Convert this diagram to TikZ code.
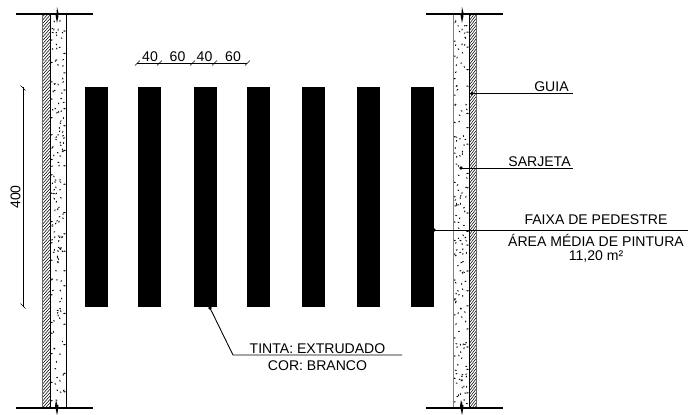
\documentclass[tikz,border=0pt]{standalone}
\usepackage{fontspec}
\setmainfont{Liberation Sans}
\usetikzlibrary{positioning}
\tikzset{
	label text/.style = {font = \fontsize{8}{9}\selectfont, inner sep = 0pt},
	leader/.style = {black, line width = 0.5pt},
	faixa/.style = {fill = black, draw = none},
	curb line/.style = {black, line width = 0.5pt},
	end line/.style = {black, line width = 0.9pt},
	tick/.style = {black, line width = 0.35pt}
}
\begin{document}
\begin{tikzpicture}[x = 0.02cm, y = -0.02cm]
	%	page
	\useasboundingbox (0, 0) rectangle (688, 414);

	%	faixas
	\foreach \x/\name in {85/a, 138/b, 194/c, 247/d, 302/e, 357/f, 411/g}
		\node[faixa, anchor = north west, minimum width = 0.46cm, minimum height = 4.4cm, inner sep = 0pt, outer sep = 0pt] (faixa\name) at (\x, 87) {};

	%	guia: hachura
	\foreach \xa/\xb in {42/50, 469/476} {
		\begin{scope}
			\clip (\xa, 14) rectangle (\xb, 408);
			\foreach \y in {14, 17.4, ..., 424}
				\draw[black, line width = 0.3pt] (\xa, \y) -- (\xb, \y - 9);
		\end{scope}
	}

	%	sarjeta: pontos
	\pgfmathsetseed{41}
	\foreach \xa in {50, 453} {
		\foreach \i in {1, ..., 135} {
			\pgfmathsetmacro{\px}{\xa + 2 + 12*rnd}
			\pgfmathsetmacro{\py}{18 + 386*rnd}
			\pgfmathsetmacro{\pa}{360*rnd}
			\fill[black] (\px, \py) ellipse [x radius = 1.1, y radius = 0.6, rotate = \pa];
		}
		\foreach \y in {24, 44, ..., 400} {
			\pgfmathsetmacro{\py}{\y + 10*rnd}
			\fill[black] (\xa + 14.5, \py) ellipse [x radius = 1.5, y radius = 0.6];
			\fill[black] (\xa + 1.5, \py + 9) ellipse [x radius = 1.5, y radius = 0.6];
		}
	}

	%	linhas verticais
	\foreach \x in {50, 66, 469}
		\draw[curb line] (\x, 14) -- (\x, 408);
	\draw[black!60, line width = 0.4pt] (42, 14) -- (42, 408);
	\draw[black!60, line width = 0.4pt] (476, 14) -- (476, 408);
	\draw[curb line, gray] (453, 14) -- (453, 408);

	%	topo e base
	\foreach \xa/\xb/\xc in {16/93/57, 426/503/462} {
		\draw[end line] (\xa, 14) -- (\xb, 14);
		\draw[end line] (\xa, 408) -- (\xb, 408);
		\fill[black] (\xc, 7) -- (\xc + 1.5, 13) -- (\xc + 0.5, 14) -- (\xc + 1.5, 16) -- (\xc, 23) -- (\xc - 1.5, 15) -- (\xc - 0.5, 13) -- cycle;
		\fill[black] (\xc - 1, 400) -- (\xc + 0.5, 405) -- (\xc + 1.5, 405) -- (\xc + 0.5, 413) -- (\xc, 415) -- (\xc - 1.5, 408) -- (\xc - 2, 406) -- cycle;
	}

	%	cota horizontal
	\coordinate (cotaA) at (137, 63);
	\coordinate (cotaB) at (247, 63);
	\draw[tick] (cotaA) -- (cotaB);
	\foreach \x in {137, 159, 192, 214, 247}
		\draw[tick] (\x - 2, 65.5) -- (\x + 3, 60.5);
	\node[label text] (cota40a) at (150, 57) {40};
	\node[label text] (cota60a) at (177.5, 57) {60};
	\node[label text] (cota40b) at (204.5, 57) {40};
	\node[label text] (cota60b) at (233, 57) {60};

	%	cota vertical
	\coordinate (cotaC) at (23, 87);
	\coordinate (cotaD) at (23, 307);
	\draw[tick] (cotaC) -- (cotaD);
	\draw[tick] (20.5, 85.5) -- (25.5, 90.5);
	\draw[tick] (20.5, 303.5) -- (25.5, 308.5);
	\node[label text, rotate = 90] (cota400) at (15.5, 197) {400};

	%	guia
	\coordinate (guiaA) at (472, 93.5);
	\coordinate (guiaB) at (573, 93.5);
	\draw[leader] (guiaA) -- (guiaB);
	\fill[black] (guiaA) circle [radius = 1.8];
	\node[label text, anchor = south east] (guia) at (569, 92) {GUIA};

	%	sarjeta
	\coordinate (sarjetaA) at (461, 168);
	\coordinate (sarjetaB) at (573, 168);
	\draw[leader] (sarjetaA) -- (sarjetaB);
	\fill[black] (sarjetaA) circle [radius = 1.8];
	\node[label text, anchor = south east] (sarjeta) at (571, 166.5) {SARJETA};

	%	faixa de pedestre
	\coordinate (pedestreA) at (434, 230);
	\coordinate (pedestreB) at (688, 230);
	\draw[leader] (pedestreA) -- (pedestreB);
	\fill[black] (pedestreA) circle [radius = 1.8];
	\node[label text] (pedestre) at (596, 220) {FAIXA DE PEDESTRE};
	\node[label text] (area) at (596, 240) {ÁREA MÉDIA DE PINTURA};
	\node[label text] (m2) at (596, 256.5) {11,20 m²};

	%	tinta
	\coordinate (tintaA) at (210, 308);
	\coordinate (tintaB) at (233, 355);
	\coordinate (tintaC) at (402, 355);
	\draw[leader] (tintaA) -- (tintaB) -- (tintaC);
	\fill[black] (tintaA) circle [radius = 1.8];
	\node[label text] (tinta) at (317.5, 349) {TINTA: EXTRUDADO};
	\node[label text] (cor) at (317.5, 366) {COR: BRANCO};
\end{tikzpicture}
\end{document}
